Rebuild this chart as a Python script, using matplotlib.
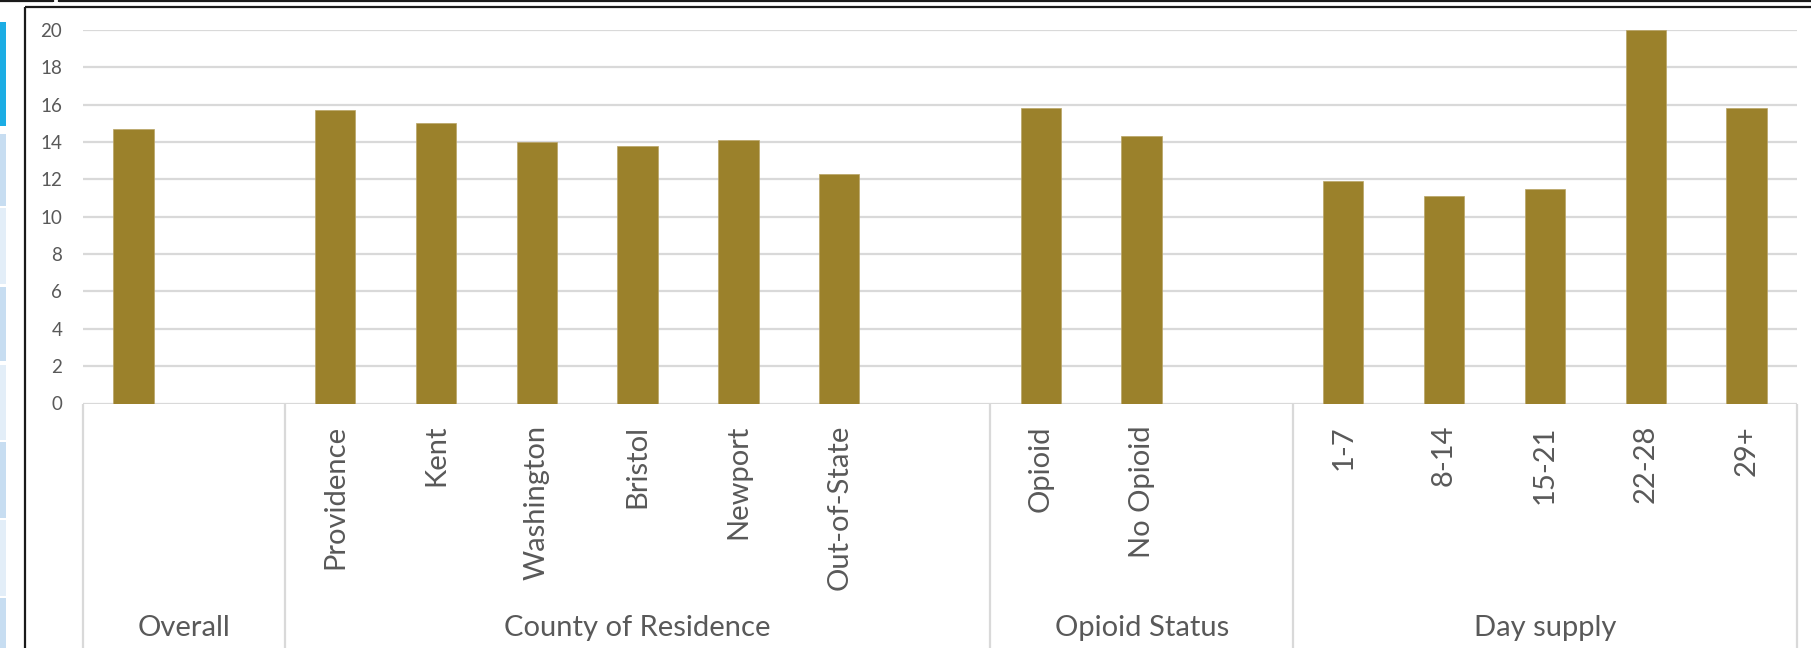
import numpy as np
import matplotlib
matplotlib.use("Agg")
import matplotlib.pyplot as plt
from matplotlib.patches import Rectangle
from matplotlib.lines import Line2D

plt.rcParams['font.family'] = ['Lato', 'DejaVu Sans']

# ---- data ----
group_names = ["Overall", "County of Residence", "Opioid Status", "Day supply"]
overall_labels = [""]
overall_values = [14.7]
county_labels = ["Providence", "Kent", "Washington", "Bristol", "Newport", "Out-of-State"]
county_values = [15.7, 15.0, 14.0, 13.8, 14.1, 12.3]
opioid_labels = ["Opioid", "No Opioid"]
opioid_values = [15.8, 14.3]
day_labels = ["1-7", "8-14", "15-21", "22-28", "29+"]
day_values = [11.9, 11.1, 11.5, 20.0, 15.8]
y_ticks = [0, 2, 4, 6, 8, 10, 12, 14, 16, 18, 20]

groups = [
    (group_names[0], overall_labels, overall_values),
    (group_names[1], county_labels, county_values),
    (group_names[2], opioid_labels, opioid_values),
    (group_names[3], day_labels, day_values),
]
trailing_blank = [1, 1, 1, 0]  # empty category slot after each group

# ---- build slots ----
cat_labels, cat_values, bounds, group_centers = [], [], [0], []
for (gname, labs, vals), pad in zip(groups, trailing_blank):
    start = len(cat_labels)
    cat_labels += list(labs) + [""] * pad
    cat_values += list(vals) + [np.nan] * pad
    end = len(cat_labels)
    bounds.append(end)
    group_centers.append((start + end) / 2)
n = len(cat_labels)
xpos = np.arange(n) + 0.5

W, H = 1811, 648
fig = plt.figure(figsize=(W / 100, H / 100), dpi=100)

def fx(px):
    return px / W

def fy(py):
    return 1 - py / H

ax_left, ax_right, ax_top, ax_bottom = 83, 1797, 30, 403.5
ax = fig.add_axes([fx(ax_left), fy(ax_bottom), fx(ax_right - ax_left), (ax_bottom - ax_top) / H])

bar_color = "#9B812B"
grid_color = "#D9D9D9"
text_color = "#595959"

ax.bar(xpos, cat_values, width=0.4, color=bar_color, edgecolor="#B9A466", linewidth=0.5, zorder=3)
ax.set_xlim(0, n)
ax.set_ylim(0, 20)
ax.set_yticks(y_ticks)
ax.yaxis.grid(True, color=grid_color, lw=1.6)
ax.set_axisbelow(True)
ax.set_xticks([])
for s in ax.spines.values():
    s.set_visible(False)
ax.tick_params(axis='y', length=0, pad=15, labelsize=13.5, labelcolor=text_color)

trans = ax.get_xaxis_transform()
# category labels
for xp, lab in zip(xpos, cat_labels):
    if lab:
        ax.text(xp, -21.5 / (ax_bottom - ax_top), lab, rotation=90, ha='center', va='top',
                transform=trans, fontsize=21, color=text_color, clip_on=False)
# group labels
for gc, gname in zip(group_centers, group_names):
    ax.text(gc, -(628 - ax_bottom) / (ax_bottom - ax_top), gname, ha='center', va='center',
            transform=trans, fontsize=21, color=text_color, clip_on=False)
# separators
for b in bounds:
    ax.plot([b, b], [0, -0.7], transform=trans, color=grid_color, lw=1.6, clip_on=False,
            solid_capstyle='butt')

# ---- surrounding screenshot decorations ----
def hline(x0, x1, y, lw=1.6, color="#1a1a1a"):
    fig.add_artist(Line2D([fx(x0), fx(x1)], [fy(y), fy(y)], transform=fig.transFigure,
                          color=color, lw=lw, solid_capstyle='butt'))

def vline(x, y0, y1, lw=1.6, color="#1a1a1a"):
    fig.add_artist(Line2D([fx(x), fx(x)], [fy(y0), fy(y1)], transform=fig.transFigure,
                          color=color, lw=lw, solid_capstyle='butt'))

# chart frame
hline(25, W, 7)
vline(25, 7, H)
# boxes above
hline(0, 53, 1)
vline(53, 0, 1.5)
hline(59, W, 1)
vline(59, 0, 1.5)

# blue side strip
strip = [
    (22, 126, "#1CADE4"),
    (134, 206, "#C7DDF1"),
    (208, 284, "#E3EEF8"),
    (287, 361, "#C7DDF1"),
    (365, 440, "#E3EEF8"),
    (442, 518, "#C7DDF1"),
    (520, 596, "#E3EEF8"),
    (598, 648, "#C7DDF1"),
]
for y0, y1, c in strip:
    fig.add_artist(Rectangle((0, fy(y1)), fx(6.3), (y1 - y0) / H, transform=fig.transFigure,
                             color=c, lw=0))

fig.savefig("out.png", dpi=100)
